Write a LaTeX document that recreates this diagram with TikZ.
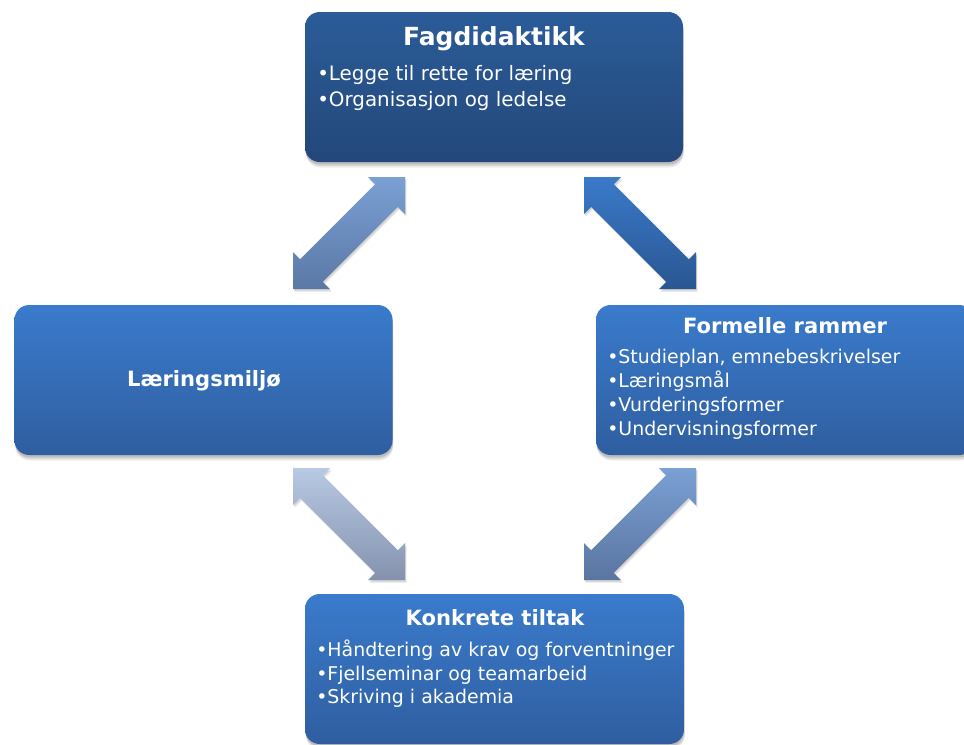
\documentclass[tikz,border=0pt]{standalone}
\usepackage{fontspec}
\setmainfont{DejaVu Sans}
\definecolor{darkTop}{HTML}{2B5C98}
\definecolor{darkBot}{HTML}{23487A}
\definecolor{midTop}{HTML}{3A7BCC}
\definecolor{midBot}{HTML}{2F5EA0}
\definecolor{arATop}{HTML}{7BA0D4}
\definecolor{arABot}{HTML}{5A78A5}
\definecolor{arBTop}{HTML}{3A7ACA}
\definecolor{arBBot}{HTML}{2A5691}
\definecolor{arCTop}{HTML}{B8C9E4}
\definecolor{arCBot}{HTML}{8492AE}
\definecolor{arDTop}{HTML}{7AA0D4}
\definecolor{arDBot}{HTML}{5A75A0}
% diagonal double block arrow: #1 tip, #2 sx, #3 sy (direction to other tip), #4 style
\newcommand\blockarrow[4]{%
  \path[#4] (#1) -- ++(0,{37*(#3)}) -- ++({7.2*(#2)},{-7.2*(#3)})
    -- ++({75*(#2)},{75*(#3)}) -- ++({-7.2*(#2)},{7.2*(#3)})
    -- ++({37*(#2)},0) -- ++(0,{-37*(#3)}) -- ++({-7.2*(#2)},{7.2*(#3)})
    -- ++({-75*(#2)},{-75*(#3)}) -- ++({7.2*(#2)},{-7.2*(#3)}) -- cycle;}
\begin{document}
\begin{tikzpicture}[x=0.75pt,y=-0.75pt,
  softshadow/.style={
    preaction={fill=black, opacity=0.07, transform canvas={xshift=0.6pt, yshift=-4.2pt}},
    preaction={fill=black, opacity=0.09, transform canvas={xshift=0.5pt, yshift=-3pt}},
    preaction={fill=black, opacity=0.12, transform canvas={xshift=0.3pt, yshift=-1.8pt}}},
  box/.style={rectangle, rounded corners=11pt, inner sep=0pt, outer sep=0pt,
    minimum width=283.5pt, minimum height=112.5pt, softshadow},
  darkbox/.style={box, top color=darkTop, bottom color=darkBot},
  midbox/.style={box, top color=midTop, bottom color=midBot},
  bigtitle/.style={text=white, font=\bfseries\fontsize{18.7}{22}\selectfont, anchor=base, inner sep=0pt},
  ttl/.style={text=white, font=\bfseries\fontsize{15.8}{19}\selectfont, anchor=base, inner sep=0pt},
  bul/.style={text=white, font=\fontsize{14.2}{17}\selectfont, anchor=base west, inner sep=0pt},
  bigbul/.style={bul, font=\fontsize{14.9}{18}\selectfont},
  arrowshadow/.style={
    preaction={fill=black, opacity=0.08, transform canvas={xshift=1.2pt, yshift=-2.2pt}},
    preaction={fill=black, opacity=0.10, transform canvas={xshift=0.7pt, yshift=-1.2pt}}}]
\useasboundingbox (0,0) rectangle (964,744);
\fill[white] (0,0) rectangle (964,744);

% boxes
\node[darkbox] (fag) at (494,87) {};
\node[midbox] (miljo) at (203.5,380) {};
\node[midbox] (formell) at (785,380) {};
\node[midbox, minimum width=284.25pt] (tiltak) at (494.5,669) {};

% texts
\node[bigtitle] (fagT) at (494,45) {Fagdidaktikk};
\node[bigbul] (fag1) at (317,80) {•Legge til rette for læring};
\node[bigbul] (fag2) at (317,106) {•Organisasjon og ledelse};

\node[ttl] (miljoT) at (204,386) {Læringsmiljø};

\node[ttl] (formT) at (785,333) {Formelle rammer};
\node[bul] (form1) at (607,363) {•Studieplan, emnebeskrivelser};
\node[bul] (form2) at (607,387) {•Læringsmål};
\node[bul] (form3) at (607,411) {•Vurderingsformer};
\node[bul] (form4) at (607,435) {•Undervisningsformer};

\node[ttl] (tilT) at (495,625) {Konkrete tiltak};
\node[bul] (til1) at (316,656) {•Håndtering av krav og forventninger};
\node[bul] (til2) at (316,680) {•Fjellseminar og teamarbeid};
\node[bul] (til3) at (316,703) {•Skriving i akademia};

% arrows
\coordinate (a1) at (405,177);
\coordinate (a2) at (584,177);
\coordinate (a3) at (293,468);
\coordinate (a4) at (696,468);
\blockarrow{a1}{-1}{1}{arrowshadow, top color=arATop, bottom color=arABot}
\blockarrow{a2}{1}{1}{arrowshadow, top color=arBTop, bottom color=arBBot}
\blockarrow{a3}{1}{1}{arrowshadow, top color=arCTop, bottom color=arCBot}
\blockarrow{a4}{-1}{1}{arrowshadow, top color=arDTop, bottom color=arDBot}
\end{tikzpicture}
\end{document}
